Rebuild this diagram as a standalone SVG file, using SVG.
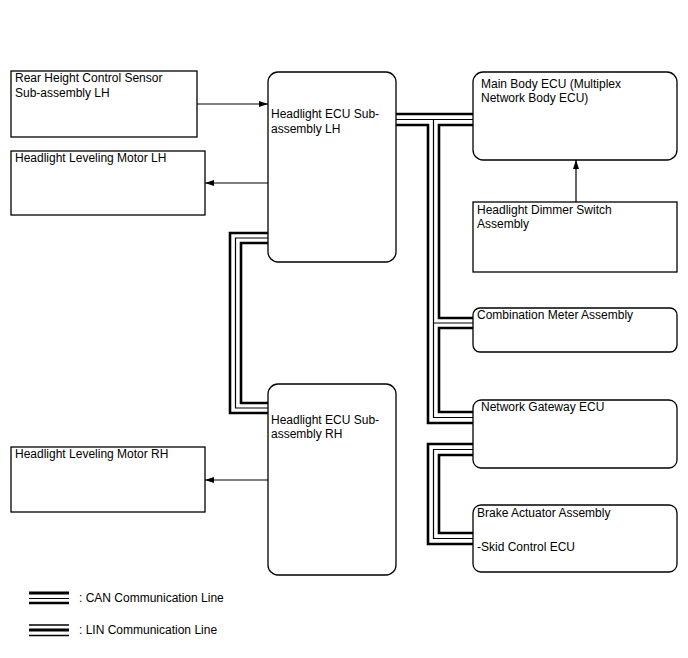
<svg xmlns="http://www.w3.org/2000/svg" width="688" height="658" viewBox="0 0 688 658">
<defs>
<marker id="ah" markerWidth="10" markerHeight="8" refX="9" refY="4" orient="auto" markerUnits="userSpaceOnUse">
<path d="M0,1 L9,4 L0,7 Z" fill="#000"/>
</marker>
<style>
.box{fill:#fff;stroke:#000;stroke-width:1.3}
.t{font-family:"Liberation Sans",Arial,sans-serif;font-size:12px;fill:#000}
.ar{fill:none;stroke:#000;stroke-width:1.2}
.k{fill:none;stroke:#000;stroke-width:2.6}
.n{fill:none;stroke:#000;stroke-width:1.2}
</style>
</defs>
<rect width="688" height="658" fill="#fff"/>
<g id="connectors">
<path class="ar" d="M197,104 H268" marker-end="url(#ah)"/>
<path class="ar" d="M268,183 H205" marker-end="url(#ah)"/>
<path class="ar" d="M268,480 H205" marker-end="url(#ah)"/>
<path class="ar" d="M576,202 V160" marker-end="url(#ah)"/>
<path class="k" d="M268,233 H230 V413 H268"/>
<path class="n" d="M268,238 H235.5 V408 H268"/>
<path class="k" d="M268,243 H241 V403 H268"/>
<path class="k" d="M396,114 H473"/>
<path class="n" d="M396,119.5 H473 M433.5,119.5 V417.5 H473"/>
<path class="k" d="M396,125 H428 V423 H473"/>
<path class="k" d="M473,125 H439 V318 H473"/>
<path class="n" d="M433.5,323 H473"/>
<path class="k" d="M473,328 H439 V412 H473"/>
<path class="k" d="M473,444 H428 V544 H473"/>
<path class="n" d="M473,449.5 H433.5 V538.5 H473"/>
<path class="k" d="M473,455 H439 V533 H473"/>
</g>
<g id="rear-sensor"><rect class="box" x="11" y="71" width="186" height="66"/>
<text class="t" x="15" y="82">Rear Height Control Sensor</text><text class="t" x="15" y="97">Sub-assembly LH</text></g>
<g id="motor-lh"><rect class="box" x="11" y="151" width="194" height="64"/>
<text class="t" x="15" y="162">Headlight Leveling Motor LH</text></g>
<g id="ecu-lh"><rect class="box" x="268" y="72" width="128" height="190" rx="10"/>
<text class="t" x="271" y="118">Headlight ECU Sub-</text><text class="t" x="271" y="133">assembly LH</text></g>
<g id="main-body"><rect class="box" x="473" y="72" width="204" height="88" rx="10"/>
<text class="t" x="481" y="88">Main Body ECU (Multiplex</text><text class="t" x="481" y="102">Network Body ECU)</text></g>
<g id="dimmer"><rect class="box" x="473" y="202" width="204" height="70"/>
<text class="t" x="477" y="214">Headlight Dimmer Switch</text><text class="t" x="477" y="228">Assembly</text></g>
<g id="combo-meter"><rect class="box" x="473" y="308" width="204" height="44" rx="7"/>
<text class="t" x="477" y="319">Combination Meter Assembly</text></g>
<g id="gateway"><rect class="box" x="473" y="400" width="204" height="68" rx="8"/>
<text class="t" x="481" y="411">Network Gateway ECU</text></g>
<g id="brake"><rect class="box" x="473" y="505" width="204" height="67" rx="8"/>
<text class="t" x="477" y="517">Brake Actuator Assembly</text><text class="t" x="477" y="551">-Skid Control ECU</text></g>
<g id="ecu-rh"><rect class="box" x="268" y="384" width="128" height="191" rx="10"/>
<text class="t" x="271" y="424">Headlight ECU Sub-</text><text class="t" x="271" y="438">assembly RH</text></g>
<g id="motor-rh"><rect class="box" x="11" y="447" width="194" height="65"/>
<text class="t" x="15" y="458">Headlight Leveling Motor RH</text></g>
<g id="legend">
<path d="M29,593 H69" stroke="#000" stroke-width="3"/>
<path d="M29,598.5 H69" stroke="#000" stroke-width="1.2"/>
<path d="M29,603 H69" stroke="#000" stroke-width="2.4"/>
<text class="t" x="79" y="602">: CAN Communication Line</text>
<path d="M29,625 H69" stroke="#000" stroke-width="1.3"/>
<path d="M29,630 H69" stroke="#000" stroke-width="3"/>
<path d="M29,635.5 H69" stroke="#000" stroke-width="1.3"/>
<text class="t" x="79" y="634">: LIN Communication Line</text>
</g>
</svg>
